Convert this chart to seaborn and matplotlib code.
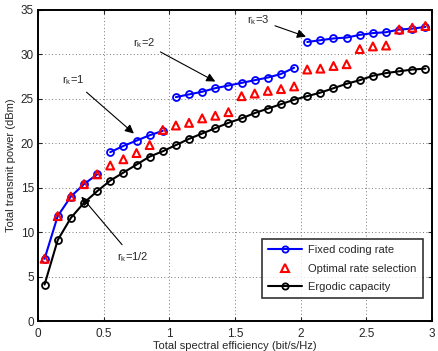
import numpy as np
import pandas as pd
import matplotlib
matplotlib.use("Agg")
import matplotlib.pyplot as plt
import seaborn as sns
from matplotlib.lines import Line2D

sns.set_style("ticks")
plt.rcParams['font.family'] = ['Liberation Sans', 'DejaVu Sans']

# ---- data ----
x_vals = [0.05, 0.15, 0.25, 0.35, 0.45, 0.55, 0.65, 0.75, 0.85, 0.95,
          1.05, 1.15, 1.25, 1.35, 1.45, 1.55, 1.65, 1.75, 1.85, 1.95,
          2.05, 2.15, 2.25, 2.35, 2.45, 2.55, 2.65, 2.75, 2.85, 2.95]
fixed_rate = [7.0, 11.8, 14.0, 15.4, 16.5, 19.0, 19.7, 20.3, 20.9, 21.4,
              25.2, 25.5, 25.8, 26.2, 26.5, 26.8, 27.1, 27.4, 27.8, 28.5,
              31.4, 31.6, 31.8, 31.9, 32.2, 32.4, 32.5, 32.8, 32.9, 33.1]
rate_segment = ["1/2"] * 5 + ["1"] * 5 + ["2"] * 10 + ["3"] * 10
optimal_rate = [7.0, 11.8, 14.0, 15.4, 16.5, 17.5, 18.2, 18.9, 19.8, 21.5,
                22.0, 22.3, 22.8, 23.1, 23.5, 25.3, 25.6, 25.9, 26.1, 26.4,
                28.3, 28.4, 28.7, 28.9, 30.6, 30.9, 31.0, 32.8, 33.0, 33.2]
ergodic = [4.1, 9.1, 11.6, 13.3, 14.6, 15.8, 16.7, 17.6, 18.5, 19.1,
           19.8, 20.5, 21.1, 21.7, 22.3, 22.8, 23.4, 23.9, 24.4, 24.9,
           25.3, 25.7, 26.2, 26.7, 27.1, 27.6, 27.9, 28.1, 28.3, 28.4]
x_ticks = [0, 0.5, 1, 1.5, 2, 2.5, 3]
x_tick_labels = ["0", "0.5", "1", "1.5", "2", "2.5", "3"]
y_ticks = [0, 5, 10, 15, 20, 25, 30, 35]
series_names = ["Fixed coding rate", "Optimal rate selection", "Ergodic capacity"]
annotations = [("r$_\\mathregular{k}$=3", 2.04, 32.0, 1.59, 33.9),
               ("r$_\\mathregular{k}$=2", 1.35, 26.95, 0.72, 31.3),
               ("r$_\\mathregular{k}$=1", 0.73, 21.1, 0.18, 27.1),
               ("r$_\\mathregular{k}$=1/2", 0.33, 14.0, 0.60, 7.2)]

df = pd.DataFrame({"x": x_vals, "fixed": fixed_rate, "seg": rate_segment,
                   "opt": optimal_rate, "erg": ergodic})

fig = plt.figure(figsize=(4.38, 3.51), dpi=100)
ax = fig.add_axes([38 / 438, 1 - 321 / 351, (432 - 38) / 438, (321 - 10) / 351])

sns.lineplot(data=df, x="x", y="fixed", units="seg", estimator=None, ax=ax,
             color="#0000ff", lw=1.5, marker="o", markersize=5,
             markerfacecolor="none", markeredgecolor="#0000ff", markeredgewidth=1.3,
             legend=False, zorder=3)
sns.scatterplot(data=df, x="x", y="opt", ax=ax, marker="^", s=32,
                facecolors="none", edgecolor="#ff0000", linewidth=1.5,
                legend=False, zorder=4)
sns.lineplot(data=df, x="x", y="erg", estimator=None, ax=ax,
             color="black", lw=1.5, marker="o", markersize=5,
             markerfacecolor="none", markeredgecolor="black", markeredgewidth=1.3,
             legend=False, zorder=3)

ax.set_xlim(0, 3)
ax.set_ylim(0, 35)
ax.set_xticks(x_ticks)
ax.set_xticklabels(x_tick_labels)
ax.set_yticks(y_ticks)
ax.tick_params(direction="in", labelsize=8.5, length=3, top=True, right=True)
ax.tick_params(axis="x", pad=5)
ax.tick_params(axis="y", pad=3)
ax.grid(True, linestyle=(0, (1, 2.5)), color="#777777", lw=0.7)
for s in ax.spines.values():
    s.set_linewidth(1.4)
    s.set_color("black")
ax.set_xlabel("Total spectral efficiency (bit/s/Hz)", fontsize=8, labelpad=1)
ax.set_ylabel("Total transmit power (dBm)", fontsize=8, labelpad=3)

for txt, hx, hy, tx, ty in annotations:
    ax.annotate(txt, xy=(hx, hy), xytext=(tx, ty), fontsize=8,
                ha="left", va="center",
                arrowprops=dict(arrowstyle="-|>", color="black", lw=0.8,
                                mutation_scale=13, shrinkA=2, shrinkB=0))

handles = [
    Line2D([], [], color="#0000ff", lw=1.5, marker="o", markersize=4.5,
           markerfacecolor="none", markeredgewidth=1.3),
    Line2D([], [], color="#ff0000", lw=0, marker="^", markersize=5.5,
           markerfacecolor="none", markeredgewidth=1.5),
    Line2D([], [], color="black", lw=1.5, marker="o", markersize=4.5,
           markerfacecolor="none", markeredgewidth=1.3),
]
leg = ax.legend(handles, series_names, loc="lower right", fontsize=8,
                frameon=True, fancybox=False, edgecolor="black",
                bbox_to_anchor=(0.977, 0.074), borderaxespad=0,
                handlelength=3.0, borderpad=0.55, labelspacing=0.75,
                handletextpad=0.6)
leg.get_frame().set_linewidth(1.2)

fig.savefig("out.png", dpi=100)
